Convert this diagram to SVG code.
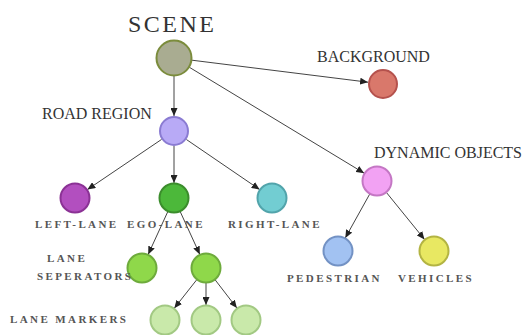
<svg xmlns="http://www.w3.org/2000/svg" width="532" height="335" viewBox="0 0 532 335">
<defs>
<marker id="arr" markerWidth="8" markerHeight="7" refX="8" refY="3.5" orient="auto" markerUnits="userSpaceOnUse">
<path d="M0,0 L8,3.5 L0,7 z" fill="#222"/>
</marker>
<style>
.e{stroke:#444;stroke-width:1;fill:none;marker-end:url(#arr)}
.n{stroke-width:2}
.big{font-family:"Liberation Serif",serif;font-size:16px;fill:#333}
.sm{font-family:"Liberation Serif",serif;font-size:11px;letter-spacing:2.4px;fill:#555;font-weight:bold}
</style>
</defs>
<rect width="532" height="335" fill="#fff"/>
<g id="connectors">
<line class="e" x1="174" y1="76" x2="174" y2="116"/>
<line class="e" x1="191.9" y1="60.2" x2="368.1" y2="82.2"/>
<line class="e" x1="189.4" y1="67.3" x2="364.2" y2="173.2"/>
<line class="e" x1="161.6" y1="139.4" x2="87.4" y2="189.6"/>
<line class="e" x1="174" y1="146" x2="174" y2="183"/>
<line class="e" x1="186.4" y1="139.5" x2="259.6" y2="189.5"/>
<line class="e" x1="167.8" y1="211.6" x2="148.2" y2="254.4"/>
<line class="e" x1="180.2" y1="211.6" x2="199.8" y2="254.4"/>
<line class="e" x1="196.7" y1="279.8" x2="174.3" y2="308.2"/>
<line class="e" x1="206" y1="283" x2="206" y2="305"/>
<line class="e" x1="215.2" y1="279.9" x2="236.9" y2="308.1"/>
<line class="e" x1="369.7" y1="194.1" x2="345.3" y2="237.9"/>
<line class="e" x1="386.5" y1="192.6" x2="424.5" y2="239.4"/>
</g>
<g id="scene">
<circle class="n" cx="174" cy="58" r="17.5" fill="#a9ac91" stroke="#7b8c3c"/>
<text x="128" y="32" font-family="Liberation Serif,serif" font-size="24" letter-spacing="2.5" fill="#333">SCENE</text>
</g>
<g id="background">
<circle class="n" cx="383" cy="84" r="14" fill="#d9786b" stroke="#b5524d"/>
<text class="big" x="317" y="62">BACKGROUND</text>
</g>
<g id="road-region">
<circle class="n" cx="174" cy="131" r="14" fill="#b8aaf6" stroke="#8a7bd2"/>
<text class="big" x="42" y="119">ROAD REGION</text>
</g>
<g id="dynamic-objects">
<circle class="n" cx="377" cy="181" r="14.5" fill="#f2a2f3" stroke="#c477c4"/>
<text class="big" x="374" y="158">DYNAMIC OBJECTS</text>
</g>
<g id="left-lane">
<circle class="n" cx="75" cy="198" r="14.5" fill="#b24fbf" stroke="#8b3295"/>
<text class="sm" x="35" y="228">LEFT-LANE</text>
</g>
<g id="ego-lane">
<circle class="n" cx="174" cy="198" r="14.5" fill="#4cb83a" stroke="#3b8d2c"/>
<text class="sm" x="127" y="228">EGO-LANE</text>
</g>
<g id="right-lane">
<circle class="n" cx="272" cy="198" r="14.5" fill="#72cdd2" stroke="#52a4ab"/>
<text class="sm" x="228" y="228">RIGHT-LANE</text>
</g>
<g id="lane-seperators">
<circle class="n" cx="142" cy="268" r="14.5" fill="#8fd84a" stroke="#6eab3c"/>
<text class="sm" x="47" y="262">LANE</text>
<text class="sm" x="37" y="280">SEPERATORS</text>
</g>
<g id="lane-marker-group">
<circle class="n" cx="206" cy="268" r="14.5" fill="#8fd84a" stroke="#6eab3c"/>
</g>
<g id="lane-marker-1">
<circle class="n" cx="165" cy="320" r="14.5" fill="#c9e9aa" stroke="#a2c983"/>
<text class="sm" x="10" y="323">LANE MARKERS</text>
</g>
<g id="lane-marker-2">
<circle class="n" cx="206" cy="320" r="14.5" fill="#c9e9aa" stroke="#a2c983"/>
</g>
<g id="lane-marker-3">
<circle class="n" cx="246" cy="320" r="14.5" fill="#c9e9aa" stroke="#a2c983"/>
</g>
<g id="pedestrian">
<circle class="n" cx="338" cy="251" r="14.5" fill="#a2c2f2" stroke="#7392c4"/>
<text class="sm" x="287" y="282">PEDESTRIAN</text>
</g>
<g id="vehicles">
<circle class="n" cx="434" cy="251" r="14.5" fill="#e8e862" stroke="#b3b443"/>
<text class="sm" x="398" y="282">VEHICLES</text>
</g>
</svg>
